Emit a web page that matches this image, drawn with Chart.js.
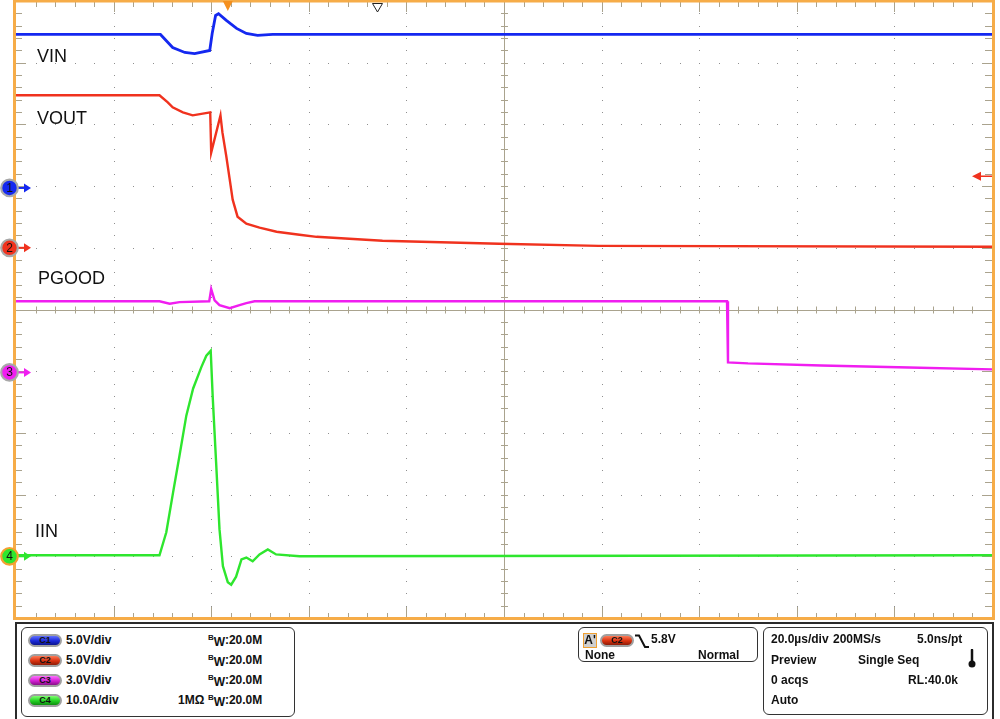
<!DOCTYPE html>
<html>
<head>
<meta charset="utf-8">
<title>VIN / VOUT / PGOOD / IIN</title>
<script src="https://cdn.jsdelivr.net/npm/chart.js@4.4.0/dist/chart.umd.min.js"></script>
<style>
    body { margin: 0; background: #fff; }
    #wrap { position: relative; width: 1000px; height: 719px; overflow: hidden; }
    #scope { position: absolute; left: 0; top: 0; }
    .frame { position: absolute; left: 15px; top: 622px; width: 975px; height: 100px;
             border: 2px solid #2b2b2b; border-bottom: none; }
    .box { position: absolute; border: 1.5px solid #333; border-radius: 6px; background: #fff; }
    .t { position: absolute; font: bold 12px "Liberation Sans", Arial, sans-serif; line-height: 12px;
         color: #111; white-space: nowrap; }
    .pill { position: absolute; width: 30px; height: 9px; border: 2px solid #a0a0a0; border-radius: 8px;
            font: bold 9px "Liberation Sans", Arial, sans-serif; line-height: 9px; text-align: center; color: #111; }
    .c1 { background: linear-gradient(#6070ff, #1a28d8 55%, #0c148c); }
    .c2 { background: linear-gradient(#ff7a55, #d8300e 55%, #8c1c08); }
    .c3 { background: linear-gradient(#ff70ff, #d21ed2 55%, #861086); }
    .c4 { background: linear-gradient(#80ff70, #22d022 55%, #108c10); }
    .bw b { font-size: 8px; position: relative; top: -4px; }
    .bw i { font-style: normal; position: relative; top: 2px; }
</style>
</head>
<body>
<div id="wrap">
    <canvas id="scope" width="1000" height="719"></canvas>

    <div class="frame"></div>

    <!-- channel settings -->
    <div class="box" style="left:21px;top:627px;width:272px;height:88px;"></div>
    <div class="pill c1" style="left:28px;top:634px;">C1</div>
    <div class="t" style="left:66px;top:634px;">5.0V/div</div>
    <div class="t bw" style="left:208px;top:634px;"><b>B</b><i>W</i>:20.0M</div>
    <div class="pill c2" style="left:28px;top:654px;">C2</div>
    <div class="t" style="left:66px;top:654px;">5.0V/div</div>
    <div class="t bw" style="left:208px;top:654px;"><b>B</b><i>W</i>:20.0M</div>
    <div class="pill c3" style="left:28px;top:674px;">C3</div>
    <div class="t" style="left:66px;top:674px;">3.0V/div</div>
    <div class="t bw" style="left:208px;top:674px;"><b>B</b><i>W</i>:20.0M</div>
    <div class="pill c4" style="left:28px;top:694px;">C4</div>
    <div class="t" style="left:66px;top:694px;">10.0A/div</div>
    <div class="t" style="left:178px;top:694px;">1MΩ</div>
    <div class="t bw" style="left:208px;top:694px;"><b>B</b><i>W</i>:20.0M</div>

    <!-- trigger -->
    <div class="box" style="left:578px;top:627px;width:178px;height:33px;"></div>
    <div class="t" style="left:583px;top:633px;width:12px;height:13px;background:#cfcfcf;border:1px solid #f0a030;line-height:13px;text-align:center;">A'</div>
    <div class="pill c2" style="left:600px;top:634px;">C2</div>
    <svg style="position:absolute;left:635px;top:634px;" width="14" height="15">
        <polyline points="0,1.5 4,1.5 10,13 14,13" fill="none" stroke="#111" stroke-width="2"/>
    </svg>
    <div class="t" style="left:651px;top:633px;">5.8V</div>
    <div class="t" style="left:585px;top:649px;">None</div>
    <div class="t" style="left:698px;top:649px;">Normal</div>

    <!-- timebase / acquisition -->
    <div class="box" style="left:763px;top:627px;width:223px;height:86px;"></div>
    <div class="t" style="left:771px;top:633px;">20.0µs/div</div>
    <div class="t" style="left:833px;top:633px;">200MS/s</div>
    <div class="t" style="left:917px;top:633px;">5.0ns/pt</div>
    <div class="t" style="left:771px;top:654px;">Preview</div>
    <div class="t" style="left:858px;top:654px;">Single Seq</div>
    <svg style="position:absolute;left:966px;top:649px;" width="12" height="20">
        <line x1="6" y1="1" x2="6" y2="13" stroke="#111" stroke-width="2.5" stroke-linecap="round"/>
        <circle cx="6" cy="15" r="3.5" fill="#111"/>
    </svg>
    <div class="t" style="left:771px;top:674px;">0 acqs</div>
    <div class="t" style="left:908px;top:674px;">RL:40.0k</div>
    <div class="t" style="left:771px;top:694px;">Auto</div>
</div>

<script>
// time in µs (20 µs/div, 10 divisions)
const timeDivs = 10;
const usPerDiv = 20;

// channel settings: units per division and ground marker offset (divisions from centre)
const chanPerDiv = [5, 5, 3, 10];
const chanOffset = [1.97, 1.0, -1.02, -4.0];
const chanNames = ['VIN', 'VOUT', 'PGOOD', 'IIN'];
const chanColors = ['#1428f0', '#f0321e', '#f01ef0', '#2ee62e'];

// C1 - VIN (V)
const vinTime = [0, 29.6, 32.1, 34.6, 36.6, 39.7, 40.2, 40.9, 41.5, 43.1, 45.2, 47.2, 49.5, 52.6, 200];
const vinVolt = [12.44, 12.44, 11.38, 10.98, 10.89, 11.14, 12.52, 13.98, 14.12, 13.58, 12.93, 12.52, 12.36, 12.44, 12.44];

// C2 - VOUT (V)
const voutTime = [0, 29.4, 31.1, 32.1, 34.2, 36.2, 39.8, 40.0, 41.9, 42.3, 43.1, 43.8, 44.4, 45.4, 47.2, 49.9, 53.4, 58.1, 61.6, 68.3, 75.1, 99.0, 119.4, 200];
const voutVolt = [12.36, 12.36, 11.79, 11.38, 10.98, 10.73, 10.98, 7.72, 10.73, 9.35, 7.40, 5.53, 3.90, 2.52, 1.95, 1.63, 1.30, 1.06, 0.89, 0.73, 0.57, 0.33, 0.16, 0.08];

// C3 - PGOOD (V)
const pgoodTime = [0, 29.4, 31.5, 33.5, 39.6, 40.0, 40.7, 41.7, 43.8, 45.8, 47.2, 48.9, 145.7, 145.9, 150.0, 165.0, 183.0, 200];
const pgoodVolt = [3.46, 3.46, 3.34, 3.42, 3.46, 4.05, 3.51, 3.27, 3.12, 3.27, 3.37, 3.46, 3.46, 0.49, 0.44, 0.34, 0.24, 0.15];

// C4 - IIN (A)
const iinTime = [0, 29.4, 30.8, 32.2, 33.5, 34.9, 36.3, 38.0, 39.0, 39.9, 40.3, 41.0, 41.7, 42.4, 43.4, 44.1, 45.1, 46.2, 47.2, 48.5, 49.9, 51.6, 53.3, 58.1, 200];
const iinAmp = [0.16, 0.16, 3.9, 10.4, 16.3, 22.8, 27.2, 30.7, 32.5, 33.3, 26.0, 15.3, 4.4, -1.6, -4.2, -4.6, -3.3, -0.5, -0.2, -0.8, 0.3, 1.1, 0.3, 0.0, 0.16];

// trigger: C2 falling edge at 5.8 V, trigger point and reference marker (µs)
const triggerLevel = 5.8;
const triggerTime = 43.4;
const refTime = 74.0;

function toPoints(times, values) {
    return times.map((t, i) => ({ x: t, y: values[i] }));
}

function chanScale(n) {
    return {
        type: 'linear',
        display: false,
        min: (-5 - chanOffset[n]) * chanPerDiv[n],
        max: (5 - chanOffset[n]) * chanPerDiv[n],
    };
}

// graticule: dotted divisions, centre cross and edge ticks
function drawGrid(chart) {
    const ctx = chart.ctx, a = chart.chartArea;
    const dx = (a.right - a.left) / 10, dy = (a.bottom - a.top) / 10;
    const cx = a.left + 5 * dx, cy = a.top + 5 * dy;
    ctx.save();
    ctx.fillStyle = '#8f8f8f';
    for (let i = 1; i < 10; i++) {
        if (i === 5) continue;
        const x = Math.round(a.left + i * dx);
        for (let k = 1; k < 50; k++) ctx.fillRect(x, Math.round(a.top + k * dy / 5), 1, 1);
        const y = Math.round(a.top + i * dy);
        for (let k = 1; k < 50; k++) ctx.fillRect(Math.round(a.left + k * dx / 5), y, 1, 1);
    }
    ctx.strokeStyle = '#aaa38e';
    ctx.lineWidth = 1;
    ctx.beginPath();
    ctx.moveTo(Math.round(cx) + 0.5, a.top); ctx.lineTo(Math.round(cx) + 0.5, a.bottom);
    ctx.moveTo(a.left, Math.round(cy) + 0.5); ctx.lineTo(a.right, Math.round(cy) + 0.5);
    for (let k = 1; k < 50; k++) {
        const major = k % 5 === 0;
        const x = Math.round(a.left + k * dx / 5) + 0.5;
        ctx.moveTo(x, cy - 3); ctx.lineTo(x, cy + 4);
        ctx.moveTo(x, a.top); ctx.lineTo(x, a.top + (major ? 11 : 6));
        ctx.moveTo(x, a.bottom); ctx.lineTo(x, a.bottom - (major ? 11 : 5));
        const y = Math.round(a.top + k * dy / 5) + 0.5;
        ctx.moveTo(cx - 3, y); ctx.lineTo(cx + 4, y);
        ctx.moveTo(a.left, y); ctx.lineTo(a.left + (major ? 10 : 6), y);
        ctx.moveTo(a.right, y); ctx.lineTo(a.right - (major ? 10 : 7), y);
    }
    ctx.stroke();
    ctx.restore();
}

function drawMarker(ctx, y, color, num, ring) {
    ctx.fillStyle = color;
    ctx.strokeStyle = color;
    ctx.lineWidth = 2;
    ctx.beginPath(); ctx.moveTo(17, y); ctx.lineTo(26, y); ctx.stroke();
    ctx.beginPath(); ctx.moveTo(31, y); ctx.lineTo(24, y - 4.5); ctx.lineTo(24, y + 4.5); ctx.closePath(); ctx.fill();
    ctx.beginPath(); ctx.arc(9.5, y, 8.3, 0, Math.PI * 2); ctx.fill();
    ctx.lineWidth = 2.2;
    ctx.strokeStyle = ring; ctx.stroke();
    ctx.fillStyle = '#111';
    ctx.font = '12px "Liberation Sans", Arial, sans-serif';
    ctx.textAlign = 'center';
    ctx.textBaseline = 'middle';
    ctx.fillText(num, 9.5, y + 0.5);
}

const scopeOverlay = {
    id: 'scopeOverlay',
    beforeDatasetsDraw(chart) {
        drawGrid(chart);
    },
    afterDatasetsDraw(chart) {
        const ctx = chart.ctx, a = chart.chartArea, sx = chart.scales.x;
        ctx.save();
        // orange frame
        ctx.strokeStyle = '#f6ac48';
        ctx.lineWidth = 3;
        ctx.strokeRect(a.left - 1.5, a.top, a.right - a.left + 3, a.bottom - a.top + 0.5);

        // trace labels
        ctx.fillStyle = '#111';
        ctx.font = '18px "Liberation Sans", Arial, sans-serif';
        ctx.textBaseline = 'alphabetic';
        ctx.fillText('VIN', 37, 62);
        ctx.fillText('VOUT', 37, 124);
        ctx.fillText('PGOOD', 38, 284);
        ctx.fillText('IIN', 35, 537);

        // ground markers
        ['c1', 'c2', 'c3', 'c4'].forEach((id, n) => {
            const y = chart.scales[id].getPixelForValue(0);
            drawMarker(ctx, y, chanColors[n], String(n + 1), n === 3 ? '#f5a030' : '#a8a8a8');
        });

        // trigger level arrow (right side)
        const ty = chart.scales.c2.getPixelForValue(triggerLevel);
        ctx.strokeStyle = chanColors[1];
        ctx.fillStyle = chanColors[1];
        ctx.lineWidth = 1.5;
        ctx.beginPath(); ctx.moveTo(978, ty); ctx.lineTo(a.right, ty); ctx.stroke();
        ctx.beginPath(); ctx.moveTo(972, ty); ctx.lineTo(981, ty - 4.5); ctx.lineTo(981, ty + 4.5); ctx.closePath(); ctx.fill();

        // trigger position and reference markers (top)
        const tx = sx.getPixelForValue(triggerTime);
        ctx.fillStyle = '#f5901e';
        ctx.beginPath(); ctx.moveTo(tx - 5, 1); ctx.lineTo(tx + 5, 1); ctx.lineTo(tx, 11); ctx.closePath(); ctx.fill();
        const rx = Math.round(sx.getPixelForValue(refTime)) + 0.5;
        ctx.strokeStyle = '#222';
        ctx.lineWidth = 1;
        ctx.beginPath(); ctx.moveTo(rx - 5, 3.5); ctx.lineTo(rx + 5, 3.5); ctx.lineTo(rx, 12); ctx.closePath(); ctx.stroke();
        ctx.restore();
    }
};

function scopeChart() {
    console.log('JS: Connected');
    const ctx = document.getElementById('scope');
    const series = [
        toPoints(vinTime, vinVolt),
        toPoints(voutTime, voutVolt),
        toPoints(pgoodTime, pgoodVolt),
        toPoints(iinTime, iinAmp),
    ];

    new Chart(ctx, {
        type: 'line',
        data: {
            datasets: series.map((pts, n) => ({
                label: chanNames[n],
                data: pts,
                yAxisID: 'c' + (n + 1),
                borderColor: chanColors[n],
                borderWidth: n === 0 ? 2.8 : 2.4,
                pointRadius: 0,
                tension: 0,
                fill: false,
            })),
        },
        options: {
            responsive: false,
            animation: false,
            events: [],
            layout: {
                padding: { left: 16, right: 8, top: 1, bottom: 101 },
            },
            plugins: {
                legend: { display: false },
                tooltip: { enabled: false },
            },
            scales: {
                x: { type: 'linear', display: false, min: 0, max: timeDivs * usPerDiv },
                c1: chanScale(0),
                c2: chanScale(1),
                c3: chanScale(2),
                c4: chanScale(3),
            },
        },
        plugins: [scopeOverlay],
    });
}

document.addEventListener('DOMContentLoaded', scopeChart);
</script>
</body>
</html>
